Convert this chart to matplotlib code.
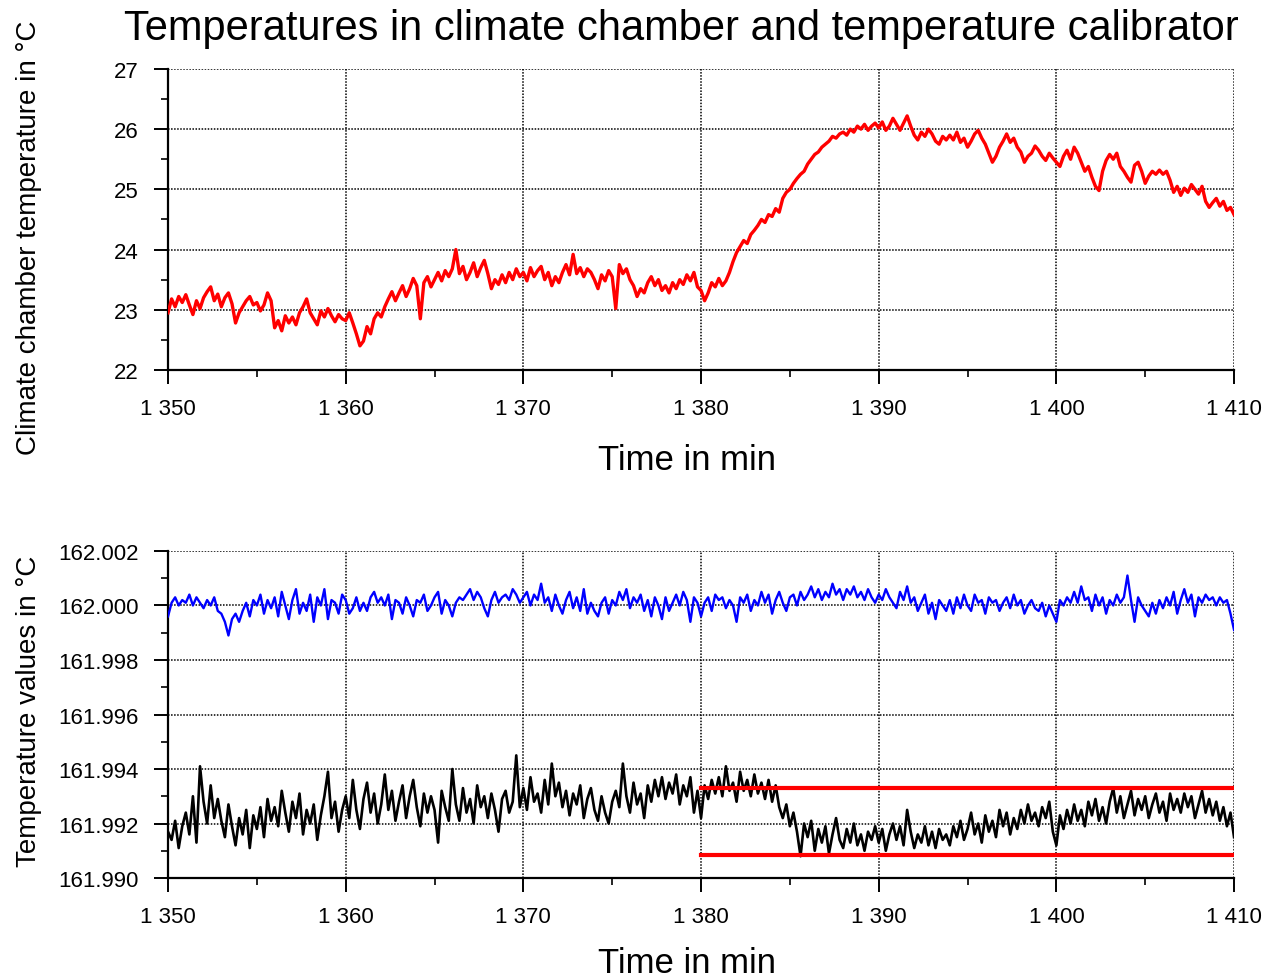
import numpy as np
import matplotlib
matplotlib.use("Agg")
import matplotlib.pyplot as plt
from matplotlib.ticker import MultipleLocator, FuncFormatter

plt.rcParams['font.family'] = ['Liberation Sans', 'DejaVu Sans']

# samples every 0.2 min from 1350 to 1410 min
t_start, t_step = 1350, 0.2

# climate chamber temperature in degC (one row = one minute)
chamber_temp = [
    22.95, 23.18, 23.05, 23.22, 23.12,
    23.25, 23.08, 22.92, 23.15, 23.02,
    23.20, 23.30, 23.38, 23.15, 23.26,
    23.05, 23.20, 23.28, 23.10, 22.78,
    22.95, 23.05, 23.15, 23.22, 23.08,
    23.12, 22.98, 23.08, 23.28, 23.15,
    22.70, 22.82, 22.65, 22.90, 22.78,
    22.88, 22.75, 22.95, 23.05, 23.18,
    22.95, 22.85, 22.75, 22.98, 22.88,
    23.02, 22.90, 22.80, 22.92, 22.85,
    22.82, 22.95, 22.78, 22.60, 22.40,
    22.48, 22.72, 22.60, 22.85, 22.95,
    22.88, 23.05, 23.18, 23.30, 23.15,
    23.28, 23.40, 23.22, 23.35, 23.52,
    23.40, 22.85, 23.45, 23.55, 23.38,
    23.50, 23.62, 23.48, 23.65, 23.55,
    23.68, 24.00, 23.60, 23.72, 23.50,
    23.62, 23.78, 23.55, 23.70, 23.82,
    23.60, 23.35, 23.50, 23.42, 23.58,
    23.45, 23.62, 23.50, 23.68, 23.55,
    23.62, 23.48, 23.70, 23.55, 23.65,
    23.72, 23.50, 23.62, 23.40, 23.55,
    23.45, 23.62, 23.75, 23.58, 23.92,
    23.60, 23.70, 23.55, 23.68, 23.62,
    23.50, 23.35, 23.58, 23.48, 23.65,
    23.55, 23.02, 23.75, 23.60, 23.68,
    23.50, 23.40, 23.22, 23.35, 23.28,
    23.45, 23.55, 23.40, 23.50, 23.32,
    23.40, 23.28, 23.45, 23.35, 23.50,
    23.42, 23.58, 23.48, 23.62, 23.38,
    23.32, 23.15, 23.28, 23.45, 23.38,
    23.52, 23.40, 23.48, 23.62, 23.80,
    23.95, 24.05, 24.15, 24.10, 24.25,
    24.32, 24.40, 24.50, 24.45, 24.58,
    24.55, 24.68, 24.62, 24.85, 24.95,
    25.00, 25.10, 25.18, 25.25, 25.30,
    25.42, 25.50, 25.58, 25.62, 25.70,
    25.75, 25.80, 25.88, 25.85, 25.92,
    25.95, 25.90, 26.00, 25.95, 26.05,
    26.00, 26.08, 25.98, 26.05, 26.10,
    26.02, 26.12, 25.98, 26.05, 26.18,
    26.08, 25.98, 26.10, 26.22, 26.05,
    25.90, 25.82, 25.95, 25.88, 26.00,
    25.92, 25.80, 25.75, 25.88, 25.82,
    25.90, 25.82, 25.95, 25.78, 25.85,
    25.70, 25.80, 25.92, 25.98, 25.85,
    25.75, 25.60, 25.45, 25.55, 25.70,
    25.80, 25.92, 25.78, 25.85, 25.70,
    25.62, 25.45, 25.55, 25.60, 25.72,
    25.65, 25.55, 25.48, 25.60, 25.52,
    25.45, 25.38, 25.55, 25.65, 25.50,
    25.70, 25.60, 25.45, 25.30, 25.38,
    25.20, 25.05, 24.98, 25.30, 25.48,
    25.58, 25.50, 25.60, 25.38, 25.30,
    25.20, 25.12, 25.40, 25.45, 25.30,
    25.10, 25.22, 25.30, 25.25, 25.32,
    25.25, 25.30, 25.15, 24.95, 25.05,
    24.90, 25.02, 24.95, 25.08, 25.00,
    24.92, 25.05, 24.80, 24.70, 24.78,
    24.85, 24.72, 24.80, 24.65, 24.70,
    24.58,
]

# calibrator values, deviation from 162 degC in mK
nominal = 162.0
blue_dev_mK = [
    -0.4, 0.1, 0.3, 0.0, 0.2,
    0.1, 0.4, 0.0, 0.3, 0.1,
    -0.1, 0.2, 0.0, 0.3, -0.2,
    -0.3, -0.6, -1.1, -0.5, -0.3,
    -0.6, -0.2, 0.1, -0.4, 0.2,
    0.0, 0.4, -0.3, 0.2, -0.1,
    0.3, -0.4, 0.5, 0.0, -0.5,
    0.2, 0.6, -0.3, 0.1, -0.2,
    0.4, -0.6, 0.3, 0.0, 0.6,
    -0.5, 0.2, 0.1, -0.3, 0.4,
    0.2, -0.3, -0.1, 0.3, -0.2,
    0.1, -0.2, 0.3, 0.5, 0.1,
    0.3, 0.0, 0.4, -0.5, 0.2,
    0.1, -0.3, 0.3, 0.0, -0.4,
    0.2, 0.1, 0.4, -0.2, 0.0,
    0.3, 0.5, -0.3, 0.2, 0.0,
    -0.4, 0.1, 0.3, 0.2, 0.4,
    0.6, 0.2, 0.5, 0.3, -0.1,
    -0.4, 0.2, 0.5, 0.1, 0.3,
    0.4, 0.2, 0.6, 0.4, 0.1,
    0.3, 0.5, 0.0, 0.4, 0.2,
    0.8, 0.1, 0.3, -0.2, 0.4,
    0.0, -0.3, 0.2, 0.5, -0.1,
    0.3, -0.2, 0.6, -0.3, 0.1,
    -0.2, -0.4, 0.1, 0.3, -0.3,
    0.2, 0.0, 0.5, 0.2, 0.6,
    -0.1, 0.3, 0.1, 0.4, -0.2,
    0.2, -0.4, 0.3, 0.0, -0.5,
    0.3, -0.2, 0.1, 0.4, 0.0,
    0.5, 0.2, -0.6, 0.3, 0.1,
    -0.4, 0.1, 0.3, -0.2, 0.4,
    0.2, 0.3, -0.1, 0.2, 0.0,
    -0.6, 0.3, 0.1, 0.4, -0.2,
    0.2, 0.0, 0.5, 0.1, 0.4,
    -0.3, 0.2, 0.5, 0.1, -0.2,
    0.3, 0.4, 0.0, 0.5, 0.2,
    0.4, 0.7, 0.3, 0.6, 0.2,
    0.5, 0.3, 0.8, 0.4, 0.6,
    0.2, 0.6, 0.4, 0.7, 0.3,
    0.5, 0.2, 0.6, 0.3, 0.1,
    0.4, 0.2, 0.6, 0.3, 0.1,
    -0.1, 0.5, 0.2, 0.7, 0.1,
    0.3, -0.2, 0.1, 0.4, -0.3,
    0.1, -0.5, 0.2, 0.0, -0.2,
    0.2, -0.3, 0.3, -0.1, 0.4,
    0.0, -0.2, 0.4, 0.1, 0.2,
    -0.3, 0.3, 0.1, 0.2, -0.2,
    0.1, 0.3, -0.1, 0.4, 0.0,
    0.2, -0.3, 0.0, 0.2, -0.1,
    -0.2, 0.1, -0.4, 0.0, -0.3,
    -0.6, 0.2, 0.0, 0.3, 0.1,
    0.5, 0.1, 0.7, 0.2, 0.3,
    -0.2, 0.4, 0.0, 0.3, -0.3,
    0.2, 0.0, 0.4, 0.1, 0.3,
    1.1, 0.2, -0.6, 0.3, 0.0,
    -0.2, -0.4, 0.1, -0.3, 0.2,
    -0.1, 0.3, 0.0, 0.5, -0.3,
    0.2, 0.6, 0.1, 0.4, -0.4,
    0.3, 0.1, 0.4, 0.2, 0.3,
    0.0, 0.3, 0.1, 0.2, -0.3,
    -0.9,
]

black_dev_mK = [
    -8.3, -8.6, -7.9, -8.9, -8.1,
    -7.6, -8.4, -7.0, -8.7, -5.9,
    -7.2, -8.0, -6.6, -7.8, -7.1,
    -7.9, -8.5, -7.3, -8.1, -8.8,
    -7.8, -8.4, -7.5, -8.9, -7.7,
    -8.2, -7.4, -8.5, -7.1, -7.9,
    -7.4, -8.1, -6.8, -7.6, -8.3,
    -7.2, -7.8, -6.9, -8.4, -7.5,
    -8.0, -7.3, -8.6, -7.7, -7.0,
    -6.1, -7.8, -7.2, -8.3, -7.5,
    -7.0, -7.8, -6.4, -7.5, -8.2,
    -7.1, -6.5, -7.6, -6.9, -8.0,
    -7.3, -6.2, -7.5, -6.8, -7.9,
    -7.2, -6.6, -7.8, -7.0, -6.4,
    -7.4, -8.1, -6.9, -7.6, -7.0,
    -7.5, -8.7, -6.8, -7.4, -7.9,
    -6.0, -7.3, -7.9, -6.7, -7.6,
    -7.1, -8.0, -6.6, -7.4, -7.0,
    -7.8, -6.9, -7.5, -8.3, -7.1,
    -6.8, -7.6, -7.2, -5.5, -7.4,
    -6.7, -7.5, -6.3, -7.2, -6.9,
    -7.6, -6.4, -7.3, -5.8, -7.0,
    -6.5, -7.4, -6.8, -7.7, -6.9,
    -7.3, -6.6, -7.8, -7.1, -6.7,
    -7.5, -7.9, -7.0, -7.6, -8.0,
    -7.2, -6.8, -7.4, -5.8, -7.0,
    -7.6, -6.5, -7.3, -6.9, -7.8,
    -6.6, -7.2, -6.4, -7.0, -6.3,
    -7.1, -6.5, -6.9, -6.2, -7.3,
    -6.6, -7.0, -6.3, -7.6, -6.8,
    -7.8, -6.6, -7.1, -6.4, -6.9,
    -6.3, -7.0, -5.9, -6.8, -6.5,
    -7.2, -6.1, -6.8, -6.4, -7.0,
    -6.2, -6.9, -6.5, -7.1, -6.4,
    -7.2, -6.6, -7.4, -7.8, -7.3,
    -8.1, -7.6, -8.3, -9.2, -8.0,
    -8.5, -7.9, -9.0, -8.2, -8.7,
    -8.1, -9.1, -8.4, -7.8, -8.6,
    -8.9, -8.2, -8.7, -8.0, -8.8,
    -8.4, -9.0, -8.3, -8.6, -8.1,
    -8.7, -8.2, -9.0, -8.4, -8.0,
    -8.6, -8.1, -8.8, -7.5, -8.3,
    -8.9, -8.4, -8.7, -8.1, -8.8,
    -8.3, -8.9, -8.2, -8.6, -8.4,
    -8.8, -8.1, -8.5, -7.9, -8.6,
    -8.2, -7.6, -8.4, -8.0, -8.7,
    -7.7, -8.3, -7.9, -8.5, -7.5,
    -8.1, -7.6, -8.4, -7.8, -8.2,
    -7.5, -8.0, -7.3, -7.9, -7.6,
    -8.1, -7.4, -7.8, -7.2, -8.3,
    -8.8, -7.7, -8.2, -7.5, -8.0,
    -7.3, -7.9, -7.5, -8.1, -7.2,
    -7.7, -7.1, -7.9, -7.4, -8.0,
    -7.2, -6.7, -7.6, -7.0, -7.8,
    -7.3, -6.8, -7.7, -7.1, -7.5,
    -7.0, -7.8, -7.3, -6.9, -7.6,
    -7.2, -7.9, -6.9, -7.5, -7.1,
    -7.6, -6.9, -7.4, -7.0, -7.8,
    -7.3, -6.8, -7.6, -7.1, -7.7,
    -7.2, -7.9, -7.4, -8.1, -7.6,
    -8.5,
]

# tolerance band drawn from 1380 min onwards
band_t = [1380, 1410]
band_upper = 161.99330
band_lower = 161.99085

t = t_start + t_step * np.arange(len(chamber_temp))
blue = nominal + np.array(blue_dev_mK) / 1000
black = nominal + np.array(black_dev_mK) / 1000

fig = plt.figure(figsize=(12.73, 9.78), dpi=100)
ax1 = fig.add_axes([0.132, 0.6207, 0.8374, 0.3078])
ax2 = fig.add_axes([0.132, 0.1012, 0.8374, 0.3344])

space_fmt = FuncFormatter(lambda v, p: f"{int(round(v)):,}".replace(",", " "))


def style(ax):
    ax.set_xlim(1350, 1410)
    ax.xaxis.set_major_locator(MultipleLocator(10))
    ax.xaxis.set_minor_locator(MultipleLocator(5))
    ax.xaxis.set_major_formatter(space_fmt)
    ax.grid(True, which='major', color='black', linestyle=(0, (1, 1)), linewidth=1.1)
    for s in ['top', 'right']:
        ax.spines[s].set_visible(False)
    for s in ['left', 'bottom']:
        ax.spines[s].set_linewidth(1.6)
    ax.tick_params(which='major', direction='out', length=10, width=1.4, labelsize=16, pad=10)
    ax.tick_params(which='minor', direction='out', length=5, width=1.2)
    ax.tick_params(axis='y', which='major', pad=11)


ax1.plot(t, chamber_temp, color='#ff0000', linewidth=2.4, zorder=3)
ax1.set_ylim(22, 27)
ax1.yaxis.set_major_locator(MultipleLocator(1))
ax1.yaxis.set_minor_locator(MultipleLocator(0.5))
style(ax1)

ax2.plot(t, blue, color='#0000ff', linewidth=1.7, zorder=3)
ax2.plot(t, black, color='black', linewidth=1.9, zorder=3)
ax2.plot(band_t, [band_upper, band_upper], color='#ff0000', linewidth=3, zorder=4)
ax2.plot(band_t, [band_lower, band_lower], color='#ff0000', linewidth=3, zorder=4)
ax2.set_ylim(161.990, 162.002)
ax2.yaxis.set_major_locator(MultipleLocator(0.002))
ax2.yaxis.set_minor_locator(MultipleLocator(0.001))
ax2.yaxis.set_major_formatter(FuncFormatter(lambda v, p: f"{v:.3f}"))
style(ax2)

fig.text(0.535, 0.959, "Temperatures in climate chamber and temperature calibrator",
         ha='center', va='baseline', fontsize=30)
fig.text(0.540, 0.5194, "Time in min", ha='center', va='baseline', fontsize=25)
fig.text(0.540, 0.0051, "Time in min", ha='center', va='baseline', fontsize=25)
fig.text(0.023, 0.757, "Climate chamber temperature in °C", rotation=90,
         ha='center', va='center', fontsize=20)
fig.text(0.023, 0.2725, "Temperature values in °C", rotation=90,
         ha='center', va='center', fontsize=20)

fig.savefig("out.png", dpi=100)
